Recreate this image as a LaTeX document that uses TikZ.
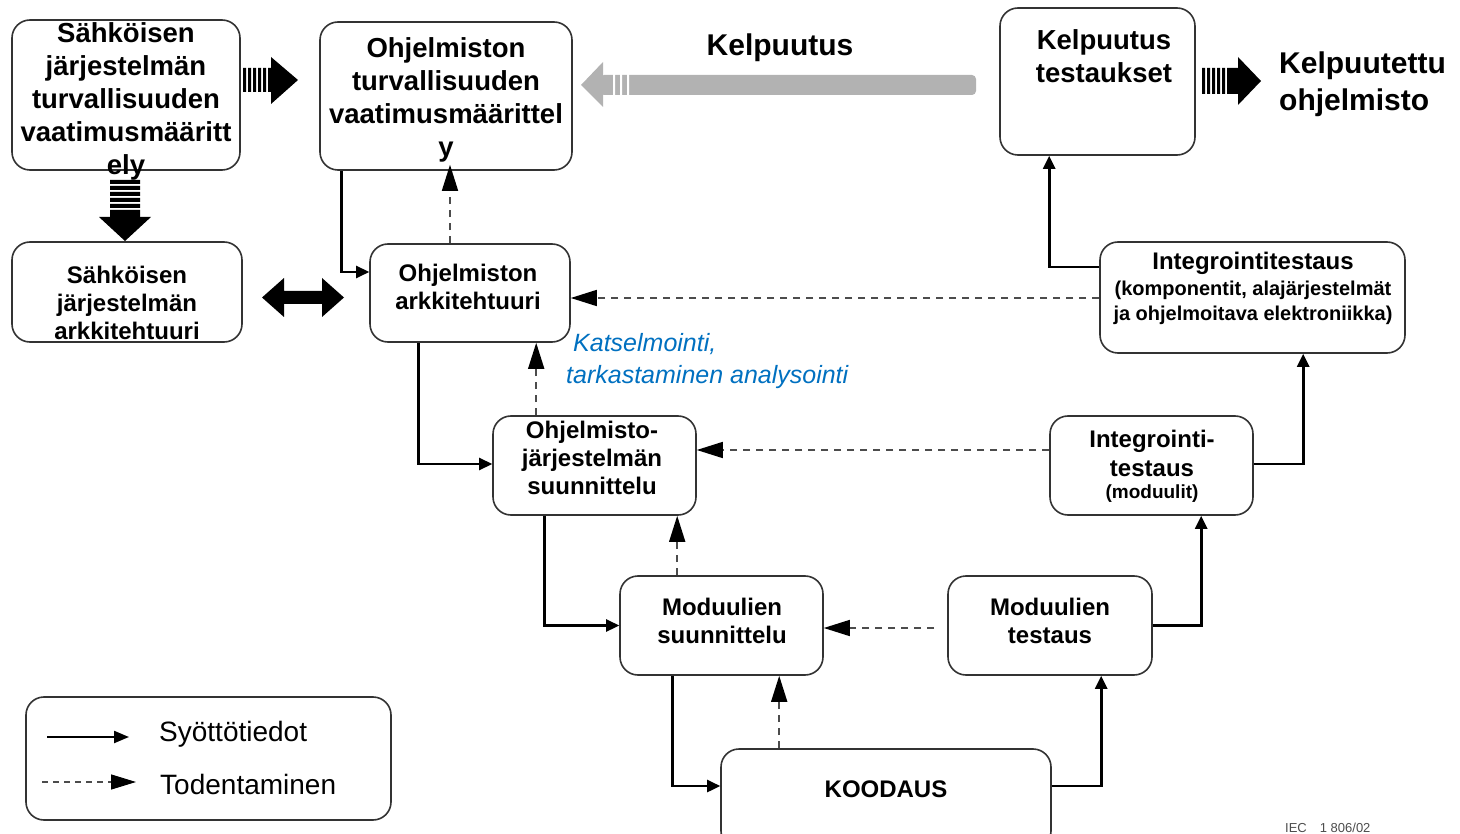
\documentclass[tikz,border=0pt]{standalone}
\usepackage{fontspec}
\setmainfont{Liberation Sans}
\usetikzlibrary{arrows.meta,calc}
\definecolor{bluetxt}{RGB}{0,112,192}
\definecolor{greyarrow}{RGB}{178,178,178}
\begin{document}
\begin{tikzpicture}[x=1pt,y=-1pt,
  box/.style={draw=black!80, line width=1.6pt, rounded corners=18pt, inner sep=0pt, fill=white},
  bigtxt/.style={align=center, inner sep=0pt, font=\bfseries\fontsize{27.5}{33}\selectfont},
  midtxt/.style={align=center, inner sep=0pt, font=\bfseries\fontsize{24}{28}\selectfont},
  smalltxt/.style={align=center, inner sep=0pt, font=\bfseries\fontsize{20}{25}\selectfont},
  feed/.style={draw=black, line width=2.6pt, -{Triangle[length=13pt,width=12pt]}},
  verif/.style={draw=black!70, line width=1.6pt, dash pattern=on 7pt off 6pt, -{Triangle[length=26pt,width=16pt,color=black]}},
  legtxt/.style={anchor=west, inner sep=0pt, font=\fontsize{28}{33}\selectfont},
]
\useasboundingbox (0,0) rectangle (1460,834);

% boxes
\node[box, minimum width=228pt, minimum height=150pt] (A) at (126,95) {};
\node[box, minimum width=252pt, minimum height=148pt] (B) at (446,96) {};
\node[box, minimum width=195pt, minimum height=147pt] (C) at (1097.5,81.5) {};
\node[box, minimum width=230pt, minimum height=100pt] (D) at (127,292) {};
\node[box, minimum width=200pt, minimum height=98pt] (E) at (470,293) {};
\node[box, minimum width=305pt, minimum height=111pt] (F) at (1252.5,297.5) {};
\node[box, minimum width=203pt, minimum height=99pt] (G) at (594.5,465.5) {};
\node[box, minimum width=203pt, minimum height=99pt] (H) at (1151.5,465.5) {};
\node[box, minimum width=203pt, minimum height=99pt] (I) at (721.5,625.5) {};
\node[box, minimum width=204pt, minimum height=99pt] (J) at (1050,625.5) {};
\node[box, minimum width=330pt, minimum height=100pt] (K) at (886,799) {};
\node[box, minimum width=365pt, minimum height=123pt] (L) at (208.5,758.5) {};

% box texts
\node[bigtxt] (At) at (126,101) {Sähköisen\\järjestelmän\\turvallisuuden\\vaatimusmääritt\\ely};
\node[bigtxt] (Bt) at (446,100) {Ohjelmiston\\turvallisuuden\\vaatimusmäärittel\\y};
\node[bigtxt] (Ct) at (1104,56) {Kelpuutus\\testaukset};
\node[midtxt] (Dt) at (127,303) {Sähköisen\\järjestelmän\\arkkitehtuuri};
\node[midtxt] (Et) at (468,287) {Ohjelmiston\\arkkitehtuuri};
\node[midtxt] (Ft1) at (1253,263) {Integrointitestaus};
\node[smalltxt] (Ft2) at (1253,303) {(komponentit, alajärjestelmät\\ja ohjelmoitava elektroniikka)};
\node[midtxt] (Gt) at (592,458) {Ohjelmisto-\\järjestelmän\\suunnittelu};
\node[midtxt, font=\bfseries\fontsize{24}{29}\selectfont] (Ht1) at (1152,453.5) {Integrointi-\\testaus};
\node[smalltxt, font=\bfseries\fontsize{19}{23}\selectfont] (Ht2) at (1152,494) {(moduulit)};
\node[midtxt] (It) at (722,621) {Moduulien\\suunnittelu};
\node[midtxt] (Jt) at (1050,621) {Moduulien\\testaus};
\node[midtxt] (Kt) at (886,789) {KOODAUS};

% free labels
\node[inner sep=0pt, font=\bfseries\fontsize{30}{36}\selectfont] (kel) at (780,48) {Kelpuutus};
\node[anchor=west, align=left, inner sep=0pt, font=\bfseries\fontsize{30}{37}\selectfont] (kelo) at (1279,84) {Kelpuutettu\\ohjelmisto};
\node[anchor=west, align=left, inner sep=0pt, text=bluetxt, font=\itshape\fontsize{25}{32}\selectfont] (kats) at (566,361) {\hspace{7pt}Katselmointi,\\tarkastaminen analysointi};
\node[anchor=south west, inner sep=0pt, text=black!70, font=\fontsize{13}{15}\selectfont] (iec) at (1285,833) {IEC\quad 1 806/02};

% big striped arrow A -> B
\fill[black] (243,68) rectangle (246,92) (248,68) rectangle (251,92) (253,68) rectangle (256,92)
  (258,68) rectangle (261,92) (263,68) rectangle (266,92) (268,68) rectangle (272,92);
\fill[black] (271,68) -- (271,57) -- (298,80) -- (271,104) -- (271,92) -- cycle;
% big striped arrow C -> out
\fill[black] (1202,68) rectangle (1205,94) (1207,68) rectangle (1210,94) (1212,68) rectangle (1215,94)
  (1217,68) rectangle (1220,94) (1222,68) rectangle (1225,94) (1227,68) rectangle (1239,94);
\fill[black] (1238,68) -- (1238,57) -- (1261,81) -- (1238,105) -- (1238,94) -- cycle;
% big striped arrow A down to D
\fill[black] (110,180) rectangle (140,184) (110,186) rectangle (140,190) (110,192) rectangle (140,196)
  (110,198) rectangle (140,202) (110,204) rectangle (140,208) (110,210) rectangle (140,218);
\fill[black] (110,217) -- (99,217) -- (125,241) -- (151,217) -- (140,217) -- cycle;
% double arrow D <-> E
\fill[black] (262,297.5) -- (284,278) -- (284,291) -- (322,291) -- (322,278) -- (344,297.5)
  -- (322,317) -- (322,304) -- (284,304) -- (284,317) -- cycle;
% grey Kelpuutus arrow
\fill[greyarrow, rounded corners=4pt] (600,75) rectangle (976,95);
\fill[greyarrow] (603,75) -- (603,62) -- (581,85) -- (603,107) -- (603,95) -- cycle;
\fill[white] (613,74) rectangle (615,96) (620,74) rectangle (622,96) (627,74) rectangle (629,96);

% feed (solid) connectors
\draw[feed] ($(B.south west)+(22,0)$) |- ($(E.west)+(0,-21)$);
\draw[feed] ($(E.south west)+(49,0)$) |- ($(G.west)+(0,-1.5)$);
\draw[feed] ($(G.south west)+(52,0)$) |- (I.west);
\draw[feed] ($(I.south west)+(53,0)$) |- ($(K.west)+(0,-13)$);
\draw[feed] ($(K.east)+(0,-13)$) -| ($(J.south west)+(154,0)$);
\draw[feed] (J.east) -| ($(H.south west)+(152,0)$);
\draw[feed] ($(H.east)+(0,-1.5)$) -| ($(F.south west)+(204,0)$);
\draw[feed] ($(F.west)+(0,-30.5)$) -| ($(C.south west)+(50,0)$);

% verification (dashed) connectors
\path ($(E.north)+(-20,0)$) coordinate (e1);
\draw[verif] (e1) -- ($(e1 |- B.south)+(0,-6)$);
\path ($(F.west)+(0,0.5)$) coordinate (f1);
\draw[verif] (f1) -- (f1 -| E.east);
\path ($(G.north west)+(44,0)$) coordinate (g1);
\draw[verif] (g1) -- (g1 |- E.south);
\path ($(H.west)+(0,-15.5)$) coordinate (h1);
\draw[verif] (h1) -- (h1 -| G.east);
\path ($(I.north west)+(58,0)$) coordinate (i1);
\draw[verif] (i1) -- (i1 |- G.south);
\path ($(J.west)+(-13,2.5)$) coordinate (j1);
\draw[verif] (j1) -- (j1 -| I.east);
\path ($(K.north west)+(59,0)$) coordinate (k2);
\draw[verif] (k2) -- (k2 |- I.south);

% legend
\coordinate (la1) at (47,737);
\coordinate (la2) at (129,737);
\coordinate (lb1) at (42,782);
\coordinate (lb2) at (136,782);
\draw[feed, line width=2.2pt, -{Triangle[length=15pt,width=12pt]}] (la1) -- (la2);
\draw[verif, line width=1.3pt, dash pattern=on 6pt off 5pt, -{Triangle[length=25pt,width=15pt,color=black]}] (lb1) -- (lb2);
\node[legtxt] (lt1) at (159,734) {Syöttötiedot};
\node[legtxt] (lt2) at (160,784) {Todentaminen};
\end{tikzpicture}
\end{document}
